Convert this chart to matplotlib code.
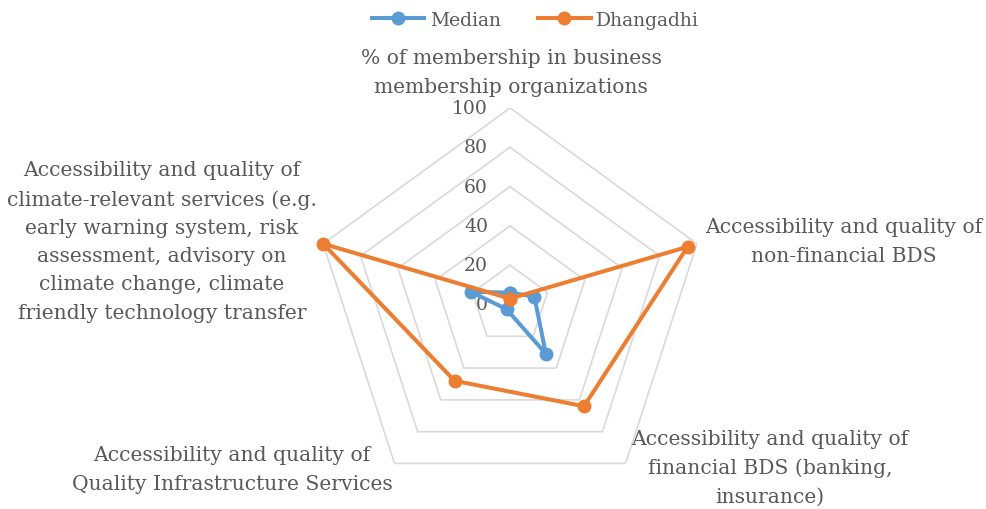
import numpy as np
import matplotlib

matplotlib.use("Agg")
import matplotlib.pyplot as plt
from matplotlib.transforms import offset_copy

categories = [
    "% of membership in business\nmembership organizations",
    "Accessibility and quality of\nnon-financial BDS",
    "Accessibility and quality of\nfinancial BDS (banking,\ninsurance)",
    "Accessibility and quality of\nQuality Infrastructure Services",
    "Accessibility and quality of\nclimate-relevant services (e.g.\nearly warning system, risk\nassessment, advisory on\nclimate change, climate\nfriendly technology transfer",
]
median = [6, 13, 31, 3, 21]
dhangadhi = [3, 95, 64, 48, 100]
rticks = [0, 20, 40, 60, 80, 100]

BLUE = "#5b9bd5"
ORANGE = "#ed7d31"
GRID = "#d9d9d9"
TXT = "#595959"
FONT = "DejaVu Serif"

fig = plt.figure(figsize=(9.86, 5.1), dpi=100)
ax = fig.add_axes([0.3180, 0.0157, 0.3986, 0.7706], projection="polar")
ax.set_theta_offset(np.pi / 2)
ax.set_theta_direction(-1)
ax.set_ylim(0, 100)
ax.grid(False)
ax.spines["polar"].set_visible(False)
ax.set_xticks([])
ax.set_yticks([])
ax.patch.set_alpha(0)

n = len(categories)
theta = np.linspace(0, 2 * np.pi, n, endpoint=False)
closed = np.append(theta, theta[0])

# pentagon grid rings
for r in rticks[1:]:
    ax.plot(closed, [r] * (n + 1), color=GRID, lw=1.2, zorder=1)

lab_tr = offset_copy(ax.transData, fig=fig, x=-22, y=0, units="dots")
for r in rticks:
    ax.text(0, r, str(r), transform=lab_tr, ha="right", va="center",
            fontsize=13.5, color=TXT, family=FONT)

for vals, col, name in [(median, BLUE, "Median"), (dhangadhi, ORANGE, "Dhangadhi")]:
    ax.plot(closed, vals + vals[:1], color=col, lw=2.9, marker="o",
            markersize=9, label=name, zorder=3, clip_on=False)

# category label placement (pixel centres of each text block)
label_pos = [(511, 73), (844, 242), (770, 468), (232, 470), (162, 242)]
for txt, (px, py) in zip(categories, label_pos):
    fig.text(px / 986, 1 - py / 510, txt, ha="center", va="center",
             multialignment="center", fontsize=14.6, color=TXT, family=FONT,
             linespacing=1.62)

fig.legend(loc="upper center", bbox_to_anchor=(0.543, 1.01), ncol=2, frameon=False,
           prop={"family": FONT, "size": 13.5}, labelcolor=TXT, handlelength=2.8,
           columnspacing=2.0, handletextpad=0.3)

fig.savefig("out.png", dpi=100)
